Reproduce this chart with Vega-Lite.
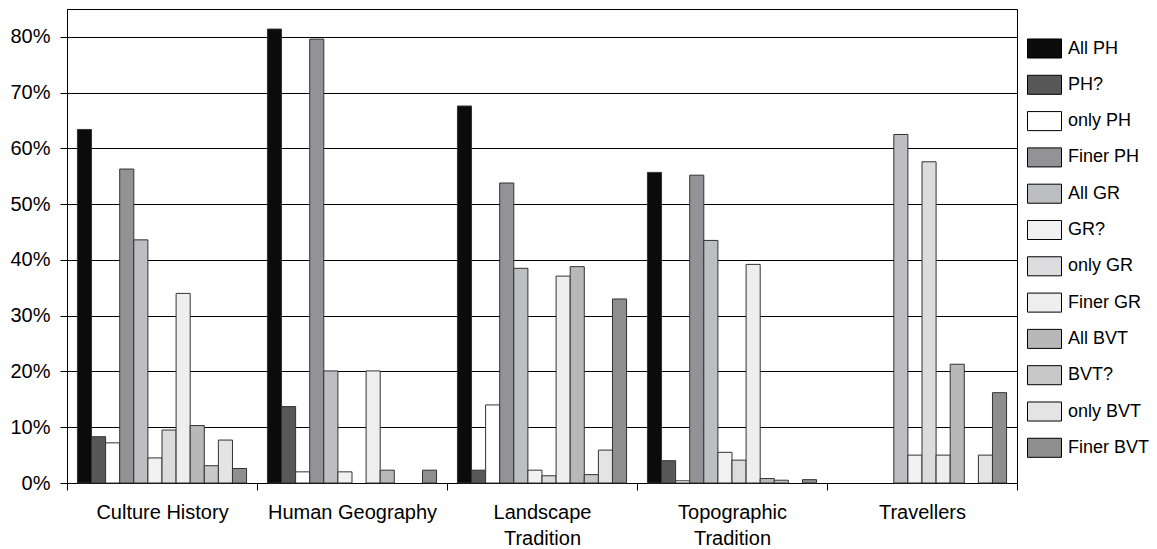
{
  "$schema": "https://vega.github.io/schema/vega-lite/v6.json",
  "width": 950,
  "height": 474,
  "autosize": {"type": "none"},
  "padding": {"left": 67, "top": 9, "right": 140, "bottom": 66},
  "background": "white",
  "config": {
    "view": {"stroke": "#000", "strokeWidth": 1},
    "font": "Liberation Sans",
    "axis": {"labelFont": "Liberation Sans", "labelColor": "#000", "domainColor": "#000", "tickColor": "#000", "labelFontSize": 20}
  },
  "data": {
    "values": [
      {"category": "Culture History", "series": "All PH", "value": 63.4},
      {"category": "Culture History", "series": "PH?", "value": 8.3},
      {"category": "Culture History", "series": "only PH", "value": 7.2},
      {"category": "Culture History", "series": "Finer PH", "value": 56.3},
      {"category": "Culture History", "series": "All GR", "value": 43.6},
      {"category": "Culture History", "series": "GR?", "value": 4.5},
      {"category": "Culture History", "series": "only GR", "value": 9.5},
      {"category": "Culture History", "series": "Finer GR", "value": 34.0},
      {"category": "Culture History", "series": "All BVT", "value": 10.3},
      {"category": "Culture History", "series": "BVT?", "value": 3.1},
      {"category": "Culture History", "series": "only BVT", "value": 7.7},
      {"category": "Culture History", "series": "Finer BVT", "value": 2.6},
      {"category": "Human Geography", "series": "All PH", "value": 81.4},
      {"category": "Human Geography", "series": "PH?", "value": 13.7},
      {"category": "Human Geography", "series": "only PH", "value": 2.0},
      {"category": "Human Geography", "series": "Finer PH", "value": 79.6},
      {"category": "Human Geography", "series": "All GR", "value": 20.1},
      {"category": "Human Geography", "series": "GR?", "value": 2.0},
      {"category": "Human Geography", "series": "only GR", "value": 0},
      {"category": "Human Geography", "series": "Finer GR", "value": 20.1},
      {"category": "Human Geography", "series": "All BVT", "value": 2.3},
      {"category": "Human Geography", "series": "BVT?", "value": 0},
      {"category": "Human Geography", "series": "only BVT", "value": 0},
      {"category": "Human Geography", "series": "Finer BVT", "value": 2.3},
      {"category": "Landscape Tradition", "series": "All PH", "value": 67.6},
      {"category": "Landscape Tradition", "series": "PH?", "value": 2.3},
      {"category": "Landscape Tradition", "series": "only PH", "value": 14.0},
      {"category": "Landscape Tradition", "series": "Finer PH", "value": 53.8},
      {"category": "Landscape Tradition", "series": "All GR", "value": 38.5},
      {"category": "Landscape Tradition", "series": "GR?", "value": 2.3},
      {"category": "Landscape Tradition", "series": "only GR", "value": 1.3},
      {"category": "Landscape Tradition", "series": "Finer GR", "value": 37.1},
      {"category": "Landscape Tradition", "series": "All BVT", "value": 38.8},
      {"category": "Landscape Tradition", "series": "BVT?", "value": 1.5},
      {"category": "Landscape Tradition", "series": "only BVT", "value": 5.9},
      {"category": "Landscape Tradition", "series": "Finer BVT", "value": 33.0},
      {"category": "Topographic Tradition", "series": "All PH", "value": 55.7},
      {"category": "Topographic Tradition", "series": "PH?", "value": 4.0},
      {"category": "Topographic Tradition", "series": "only PH", "value": 0.4},
      {"category": "Topographic Tradition", "series": "Finer PH", "value": 55.2},
      {"category": "Topographic Tradition", "series": "All GR", "value": 43.5},
      {"category": "Topographic Tradition", "series": "GR?", "value": 5.5},
      {"category": "Topographic Tradition", "series": "only GR", "value": 4.1},
      {"category": "Topographic Tradition", "series": "Finer GR", "value": 39.2},
      {"category": "Topographic Tradition", "series": "All BVT", "value": 0.8},
      {"category": "Topographic Tradition", "series": "BVT?", "value": 0.5},
      {"category": "Topographic Tradition", "series": "only BVT", "value": 0},
      {"category": "Topographic Tradition", "series": "Finer BVT", "value": 0.6},
      {"category": "Travellers", "series": "All PH", "value": 0},
      {"category": "Travellers", "series": "PH?", "value": 0},
      {"category": "Travellers", "series": "only PH", "value": 0},
      {"category": "Travellers", "series": "Finer PH", "value": 0},
      {"category": "Travellers", "series": "All GR", "value": 62.5},
      {"category": "Travellers", "series": "GR?", "value": 5.0},
      {"category": "Travellers", "series": "only GR", "value": 57.6},
      {"category": "Travellers", "series": "Finer GR", "value": 5.0},
      {"category": "Travellers", "series": "All BVT", "value": 21.3},
      {"category": "Travellers", "series": "BVT?", "value": 0},
      {"category": "Travellers", "series": "only BVT", "value": 5.0},
      {"category": "Travellers", "series": "Finer BVT", "value": 16.2}
    ]
  },
  "transform": [{"filter": "datum.value > 0"}],
  "mark": {"type": "bar", "stroke": "#333", "strokeWidth": 1},
  "encoding": {
    "x": {
      "field": "category",
      "type": "nominal",
      "scale": {"domain": ["Culture History", "Human Geography", "Landscape Tradition", "Topographic Tradition", "Travellers"], "paddingInner": 0, "paddingOuter": 0},
      "axis": {
        "title": null,
        "labelAngle": 0,
        "tickBand": "extent",
        "tickSize": 7,
        "labelPadding": 12,
        "labelLineHeight": 26,
        "labelExpr": "datum.label == 'Landscape Tradition' ? ['Landscape', 'Tradition'] : datum.label == 'Topographic Tradition' ? ['Topographic', 'Tradition'] : datum.label"
      }
    },
    "xOffset": {
      "field": "series",
      "type": "nominal",
      "scale": {"domain": ["All PH", "PH?", "only PH", "Finer PH", "All GR", "GR?", "only GR", "Finer GR", "All BVT", "BVT?", "only BVT", "Finer BVT"], "paddingInner": 0, "paddingOuter": 0.74}
    },
    "y": {
      "field": "value",
      "type": "quantitative",
      "scale": {"domain": [0, 85], "nice": false},
      "axis": {
        "title": null,
        "values": [0, 10, 20, 30, 40, 50, 60, 70, 80],
        "labelExpr": "datum.value + '%'",
        "grid": true,
        "gridColor": "#000",
        "gridOpacity": 1,
        "tickSize": 7,
        "labelPadding": 10
      }
    },
    "fill": {
      "field": "series",
      "type": "nominal",
      "scale": {
        "domain": ["All PH", "PH?", "only PH", "Finer PH", "All GR", "GR?", "only GR", "Finer GR", "All BVT", "BVT?", "only BVT", "Finer BVT"],
        "range": ["#0b0b0b", "#585858", "#ffffff", "#939397", "#bdbec2", "#f1f1f1", "#dcdcde", "#eeeeee", "#b8b8b8", "#c8c8c8", "#e4e4e4", "#8e8e8e"]
      },
      "legend": {
        "title": null,
        "orient": "none",
        "legendX": 960,
        "legendY": 22,
        "padding": 0,
        "symbolType": "M-1,-0.56H1V0.56H-1Z",
        "symbolSize": 1156,
        "symbolStrokeColor": "#000",
        "symbolStrokeWidth": 1,
        "symbolOpacity": 1,
        "labelFontSize": 18,
        "labelFont": "Liberation Sans",
        "labelColor": "#000",
        "labelOffset": 6,
        "rowPadding": 6.3
      }
    }
  }
}
